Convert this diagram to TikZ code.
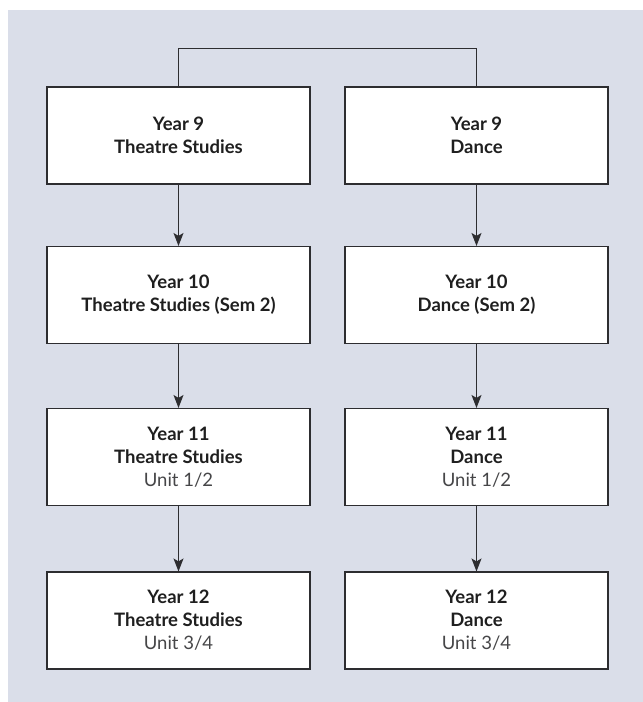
\documentclass[tikz,border=0pt]{standalone}
\usepackage{fontspec}
\setmainfont{Lato}
\usetikzlibrary{arrows.meta}

\definecolor{panelbg}{RGB}{218,222,233}
\definecolor{boxline}{RGB}{45,45,48}
\definecolor{unittext}{RGB}{70,70,72}

\tikzset{
  yearbox/.style={draw=boxline, fill=white, line width=1.1pt, minimum width=263pt, minimum height=97pt, inner sep=0pt, align=center, text=black!88, font=\fontsize{18.5}{23}\selectfont\bfseries},
  flow/.style={draw=boxline, line width=1.1pt, -{Stealth[length=13pt,width=10pt,inset=3pt]}},
  link/.style={draw=boxline, line width=1.1pt}
}
\newcommand{\unitline}[1]{\\{\mdseries\color{unittext}#1}}

\begin{document}
\begin{tikzpicture}[x=1pt,y=1pt,yscale=-1]
%set diagram to 643 x 702
\useasboundingbox (0,0) rectangle (643,702);

%Shape: Rectangle (panel)
\fill [panelbg] (8,10) rectangle (643,702);

% Theatre Studies column
\node [yearbox] (theatreA) at (178.5,135.5) {Year 9\\Theatre Studies};
\node [yearbox] (theatreB) at (178.5,295) {Year 10\\Theatre Studies (Sem 2)};
\node [yearbox] (theatreC) at (178.5,457) {Year 11\\Theatre Studies\unitline{Unit 1/2}};
\node [yearbox] (theatreD) at (178.5,620.5) {Year 12\\Theatre Studies\unitline{Unit 3/4}};

% Dance column
\node [yearbox] (danceA) at (476.5,135.5) {Year 9\\Dance};
\node [yearbox] (danceB) at (476.5,295) {Year 10\\Dance (Sem 2)};
\node [yearbox] (danceC) at (476.5,457) {Year 11\\Dance\unitline{Unit 1/2}};
\node [yearbox] (danceD) at (476.5,620.5) {Year 12\\Dance\unitline{Unit 3/4}};

%Straight Lines (top bracket)
\draw [link] (theatreA.north) -- ++(0,-38) -| (danceA.north);

%Arrows
\draw [flow] (theatreA) -- (theatreB);
\draw [flow] (theatreB) -- (theatreC);
\draw [flow] (theatreC) -- (theatreD);
\draw [flow] (danceA) -- (danceB);
\draw [flow] (danceB) -- (danceC);
\draw [flow] (danceC) -- (danceD);

\end{tikzpicture}
\end{document}
